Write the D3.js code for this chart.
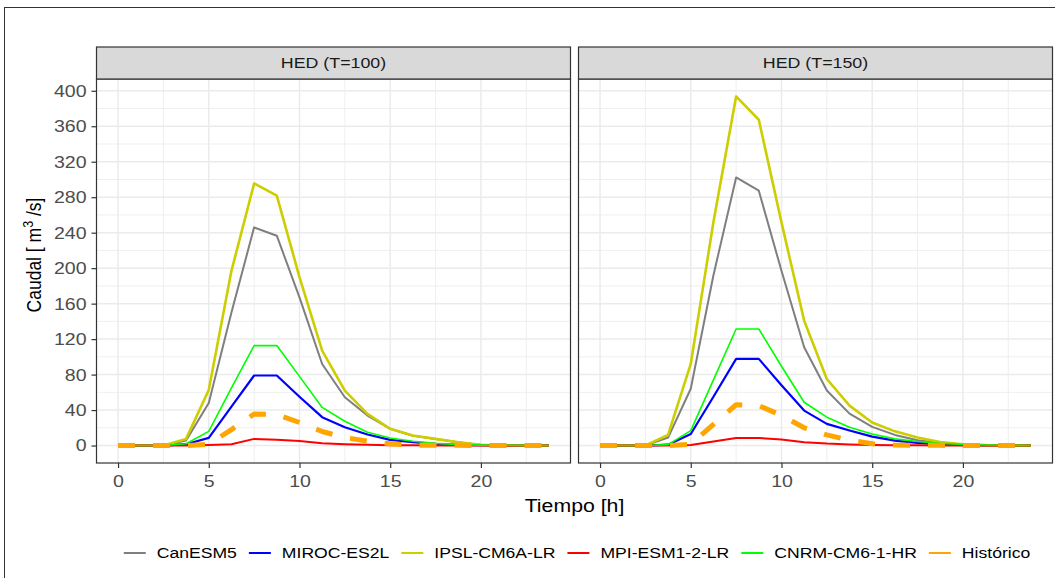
<!DOCTYPE html>
<html>
<head>
<meta charset="utf-8">
<script src="https://cdn.jsdelivr.net/npm/d3@7"></script>
<style>
  body { margin: 0; background: #fff; }
  svg { display: block; font-family: 'Liberation Sans', Arial, sans-serif; }
</style>
</head>
<body>
<div id="container"></div>
<script>
// tiempo [h] cada 1.25 h
const tiempo = [0, 1.25, 2.5, 3.75, 5, 6.25, 7.5, 8.75, 10, 11.25, 12.5, 13.75, 15, 16.25, 17.5, 18.75, 20, 21.25, 22.5, 23.75]

const panels = ['HED (T=100)', 'HED (T=150)']
const modelos = ['CanESM5', 'MIROC-ES2L', 'IPSL-CM6A-LR', 'MPI-ESM1-2-LR', 'CNRM-CM6-1-HR', 'Histórico']
const colores = ['#7f7f7f', '#0000ff', '#cdcd00', '#ff0000', '#00ff00', '#ffa500']

// HED (T=100)
const canesm5_100 = [0, 0, 0, 5.6, 48, 150, 246, 236.6, 167, 92, 54.5, 33.8, 18.8, 11, 7.5, 3.8, 0.5, 0.3, 0.2, 0.1]
const miroc_100 = [0, 0, 0, 1.5, 8.6, 44, 79, 79, 55, 32, 20.7, 12.4, 6.4, 3.8, 1.9, 0.8, 0.4, 0.2, 0.1, 0.1]
const ipsl_100 = [0, 0, 0, 7.5, 62.7, 197, 295.5, 281.7, 190, 107, 62, 35.7, 18.8, 11.3, 7.5, 3.8, 0.8, 0.3, 0.1, 0.1]
const mpi_100 = [0, 0, 0, 0, 0.5, 1.5, 7.5, 6.4, 5.2, 2.7, 1.5, 0.8, 0.4, 0.2, 0.1, 0, 0, 0, 0, 0]
const cnrm_100 = [0, 0, 0, 2, 16, 65, 112.7, 112.7, 78, 43, 27.4, 15, 8.6, 4.9, 2.6, 1, 0.5, 0.3, 0.2, 0.1]
const hist_100 = [0, 0, 0, 0, 1.5, 18, 35.5, 35, 26, 15.8, 9, 5, 2, 0.5, 0.3, 0.2, 0.1, 0, 0, 0]

// HED (T=150)
const canesm5_150 = [0, 0, 0, 9, 64, 192, 302.3, 287.3, 197, 110.8, 62, 36, 21, 12, 6, 3, 1, 0.5, 0.2, 0.1]
const miroc_150 = [0, 0, 0, 1, 13, 55, 97.7, 97.7, 68, 39.4, 24.4, 16.9, 10, 5.6, 3, 1.5, 0.7, 0.3, 0.2, 0.1]
const ipsl_150 = [0, 0, 0, 12, 92, 252, 393.6, 367.3, 251.6, 140.8, 75, 45, 26, 16, 9, 4, 1.5, 0.5, 0.2, 0.1]
const mpi_150 = [0, 0, 0, 0, 0.5, 4.5, 8.6, 8.6, 6.8, 3.8, 2.2, 1.3, 0.7, 0.3, 0.2, 0.1, 0, 0, 0, 0]
const cnrm_150 = [0, 0, 0, 1, 16.9, 74, 131.4, 131.4, 89.4, 48.8, 32, 20.7, 13, 7.5, 4.5, 2.5, 1.5, 0.7, 0.3, 0.1]
const hist_150 = [0, 0, 0, 0, 1.5, 24, 46, 45, 34, 20, 12, 6, 2, 0.5, 0.3, 0.2, 0.1, 0, 0, 0]

const series = [
  [canesm5_100, miroc_100, ipsl_100, mpi_100, cnrm_100, hist_100],
  [canesm5_150, miroc_150, ipsl_150, mpi_150, cnrm_150, hist_150]
]

const yTicks = [0, 40, 80, 120, 160, 200, 240, 280, 320, 360, 400]
const xTicks = [0, 5, 10, 15, 20]

var w = 1055
var h = 578
var panelX = [96.5, 578.5]
var panelW = 474
var panelTop = 79
var panelBottom = 463
var stripH = 32
// la imagen original esta algo estirada en horizontal
var sx = 1.15

const anchos = [2, 2.2, 2.6, 2, 1.6, 5]

var svg = d3.select('div#container')
  .append('svg')
  .attr('width', w)
  .attr('height', h)

// marco exterior
svg.append('rect')
  .attr('x', 4.5).attr('y', 7.5)
  .attr('width', w + 20).attr('height', h + 20)
  .attr('fill', 'none')
  .attr('stroke', '#333')
  .attr('stroke-width', 1)

const stretchText = (sel, x, y) => sel
  .attr('transform', 'translate(' + x + ',' + y + ') scale(' + sx + ',1)')

// escala y compartida (expansion 5%)
const yMax = d3.max(series.flat(2))
const yPad = yMax * 0.05
const yScale = d3.scaleLinear()
  .domain([-yPad, yMax + yPad])
  .range([panelBottom, panelTop])

const xPad = (d3.max(tiempo) - d3.min(tiempo)) * 0.05

panels.forEach((name, p) => {
  const x0 = panelX[p]
  const xScale = d3.scaleLinear()
    .domain([d3.min(tiempo) - xPad, d3.max(tiempo) + xPad])
    .range([x0, x0 + panelW])

  const g = svg.append('g')

  // rejilla menor
  const yMinor = d3.range(20, 420, 40).filter(v => v < yMax + yPad)
  g.selectAll('.ymin').data(yMinor).enter().append('line')
    .attr('x1', x0).attr('x2', x0 + panelW)
    .attr('y1', d => yScale(d)).attr('y2', d => yScale(d))
    .attr('stroke', '#ebebeb').attr('stroke-width', 0.8)
  g.selectAll('.xmin').data([2.5, 7.5, 12.5, 17.5, 22.5]).enter().append('line')
    .attr('y1', panelTop).attr('y2', panelBottom)
    .attr('x1', d => xScale(d)).attr('x2', d => xScale(d))
    .attr('stroke', '#ebebeb').attr('stroke-width', 0.8)

  // rejilla mayor
  g.selectAll('.ymaj').data(yTicks).enter().append('line')
    .attr('x1', x0).attr('x2', x0 + panelW)
    .attr('y1', d => yScale(d)).attr('y2', d => yScale(d))
    .attr('stroke', '#ebebeb').attr('stroke-width', 1.5)
  g.selectAll('.xmaj').data(xTicks).enter().append('line')
    .attr('y1', panelTop).attr('y2', panelBottom)
    .attr('x1', d => xScale(d)).attr('x2', d => xScale(d))
    .attr('stroke', '#ebebeb').attr('stroke-width', 1.5)

  const line = d3.line()
    .x((d, i) => xScale(tiempo[i]))
    .y(d => yScale(d))

  series[p].forEach((vals, k) => {
    g.append('path')
      .datum(vals)
      .attr('d', line)
      .attr('fill', 'none')
      .attr('stroke', colores[k])
      .attr('stroke-width', anchos[k])
      .attr('stroke-dasharray', k === 5 ? '17,18' : null)
      .attr('stroke-linejoin', 'round')
  })

  // borde del panel
  g.append('rect')
    .attr('x', x0).attr('y', panelTop)
    .attr('width', panelW).attr('height', panelBottom - panelTop)
    .attr('fill', 'none').attr('stroke', '#333').attr('stroke-width', 1.2)

  // strip
  g.append('rect')
    .attr('x', x0).attr('y', panelTop - stripH)
    .attr('width', panelW).attr('height', stripH)
    .attr('fill', '#d9d9d9').attr('stroke', '#333').attr('stroke-width', 1.2)
  g.append('text')
    .call(stretchText, x0 + panelW / 2, panelTop - stripH / 2)
    .attr('dy', '0.35em')
    .attr('text-anchor', 'middle')
    .style('font-size', '15.5px')
    .style('fill', '#1a1a1a')
    .text(name)

  // eje x
  const xAxis = d3.axisBottom(xScale).tickValues(xTicks).tickSize(5).tickPadding(7)
  const gx = svg.append('g')
    .attr('transform', 'translate(0,' + panelBottom + ')')
    .call(xAxis)
  gx.select('.domain').remove()
  gx.selectAll('line').attr('stroke', '#333').attr('stroke-width', 1.2)
  gx.selectAll('text')
    .attr('transform', 'scale(' + sx + ',1)')
    .style('font-size', '17px').style('fill', '#4d4d4d')

  if (p === 0) {
    const yAxis = d3.axisLeft(yScale).tickValues(yTicks).tickSize(5).tickPadding(5)
    const gy = svg.append('g')
      .attr('transform', 'translate(' + x0 + ',0)')
      .call(yAxis)
    gy.select('.domain').remove()
    gy.selectAll('line').attr('stroke', '#333').attr('stroke-width', 1.2)
    gy.selectAll('text')
      .attr('x', -10 / sx)
      .attr('transform', 'scale(' + sx + ',1)')
      .style('font-size', '17px').style('fill', '#4d4d4d')
  }
})

// titulos de ejes
svg.append('text')
  .call(stretchText, (panelX[0] + panelX[1] + panelW) / 2, 512)
  .attr('text-anchor', 'middle')
  .style('font-size', '18.5px')
  .style('fill', '#000')
  .text('Tiempo [h]')

const yTitle = svg.append('text')
  .attr('transform', 'translate(41,255) scale(' + sx + ',1) rotate(-90)')
  .attr('text-anchor', 'middle')
  .style('font-size', '17.5px')
  .style('fill', '#000')
yTitle.append('tspan').text('Caudal [ m')
yTitle.append('tspan').attr('dy', -7).style('font-size', '12.5px').text('3')
yTitle.append('tspan').attr('dy', 7).text(' /s]')

// leyenda
var legend = svg.append('g').attr('id', 'legend')
var lx = 0
var keyW = 22
var itemGap = 12
modelos.forEach((m, k) => {
  const item = legend.append('g').attr('transform', 'translate(' + lx + ',0)')
  item.append('line')
    .attr('x1', 0).attr('x2', keyW)
    .attr('y1', 0).attr('y2', 0)
    .attr('stroke', colores[k])
    .attr('stroke-width', 2)
  const t = item.append('text')
    .call(stretchText, keyW + 11, 0)
    .attr('dy', '0.35em')
    .style('font-size', '15.3px')
    .style('fill', '#000')
    .text(m)
  lx += keyW + 11 + t.node().getComputedTextLength() * sx + itemGap
})
lx -= itemGap
legend.attr('transform', 'translate(' + (577 - lx / 2) + ',553)')
</script>
</body>
</html>
